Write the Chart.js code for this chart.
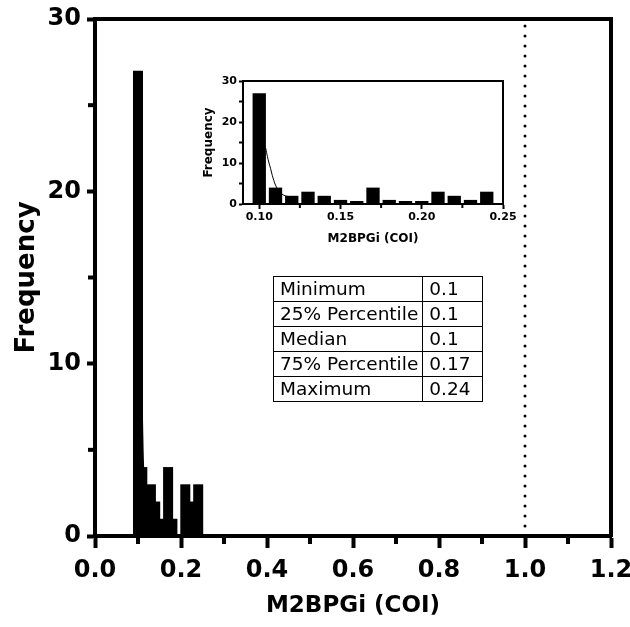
<!DOCTYPE html>
<html><head><meta charset="utf-8">
<script src="https://cdn.jsdelivr.net/npm/chart.js@4.4.1/dist/chart.umd.min.js"></script>
<style>
html,body{margin:0;padding:0;background:#fff;}
#wrap{position:relative;width:630px;height:627px;overflow:hidden;}
#main{position:absolute;left:0;top:0;}
#inset{position:absolute;left:180px;top:60px;}
#stats{position:absolute;left:273px;top:276px;border-collapse:collapse;font-family:"DejaVu Sans",sans-serif;font-size:18.5px;color:#000;}
#stats td{border:1.5px solid #000;padding:0 4px 0 6px;height:24px;line-height:24px;white-space:nowrap;}
#stats td.v{width:49px;}
</style></head><body>
<div id="wrap">
<canvas id="main" width="630" height="627"></canvas>
<canvas id="inset" width="345" height="200"></canvas>
<table id="stats"></table>
</div>
<script>
// ---- data ----
const binCenters = [0.10,0.11,0.12,0.13,0.14,0.15,0.16,0.17,0.18,0.19,0.20,0.21,0.22,0.23,0.24];
const counts     = [27,4,2,3,2,1,0,4,1,0,0,3,2,1,3];
const fitX = [0.104,0.105,0.106,0.107,0.108,0.109,0.110,0.112,0.114,0.116,0.118];
const fitY = [13.6,11.6,10.0,8.6,7.0,5.7,4.6,3.2,2.4,2.0,1.8];
const cutoffX = [1.0,1.0];
const cutoffY = [0,30];
const mainXTicks = [0,0.2,0.4,0.6,0.8,1.0,1.2];
const mainXMinor = [0.1,0.3,0.5,0.7,0.9,1.1];
const mainYTicks = [0,10,20,30];
const mainYMinor = [5,15,25];
const insetXTicks = [0.10,0.15,0.20,0.25];
const insetXMinor = [0.125,0.175,0.225];
const insetYTicks = [0,10,20,30];
const insetYMinor = [5,15,25];
const statNames  = ['Minimum','25% Percentile','Median','75% Percentile','Maximum'];
const statValues = ['0.1','0.1','0.1','0.17','0.24'];
const xTitle = 'M2BPGi (COI)';
const yTitle = 'Frequency';

// ---- table ----
const tbl = document.getElementById('stats');
statNames.forEach((n,i)=>{
  const tr = document.createElement('tr');
  const a = document.createElement('td'); a.textContent = n;
  const b = document.createElement('td'); b.textContent = statValues[i]; b.className='v';
  tr.appendChild(a); tr.appendChild(b); tbl.appendChild(tr);
});

const FONT = '"DejaVu Sans", sans-serif';

const minorTicks = {
  id:'minorTicks',
  afterDraw(chart, args, o){
    const ctx = chart.ctx, xs = chart.scales.x, ys = chart.scales.y, ca = chart.chartArea;
    ctx.save(); ctx.strokeStyle='#000'; ctx.lineWidth=o.width; ctx.lineCap='butt';
    const by = ca.bottom + o.border/2, lx = ca.left - o.border/2;
    o.xs.forEach(v=>{const p=xs.getPixelForValue(v); ctx.beginPath(); ctx.moveTo(p,by); ctx.lineTo(p,by+o.lenX); ctx.stroke();});
    o.ys.forEach(v=>{const p=ys.getPixelForValue(v); ctx.beginPath(); ctx.moveTo(lx,p); ctx.lineTo(lx-o.lenY,p); ctx.stroke();});
    ctx.restore();
  }
};

function noPad(s){ s.paddingLeft = 0; s.paddingRight = 0; s.paddingTop = 0; s.paddingBottom = 0; }

function build(canvas, cfg){
  const bw = cfg.border;
  const frame = (pos, size) => ({
    type:'linear', position:pos, display:true,
    ticks:{display:false}, grid:{display:false},
    border:{display:true, width:bw, color:'#000'},
    afterFit: s => { noPad(s); if (pos==='top') s.height = size; else s.width = size; }
  });
  return new Chart(canvas, {
    type:'bar',
    data:{ datasets:[
      { type:'line', data: cutoffX.map((x,i)=>({x, y:cutoffY[i]})), borderColor:'#000',
        borderWidth:cfg.dotW, borderDash:[0,cfg.dotGap], borderCapStyle:'round', pointRadius:0,
        xAxisID:'x', yAxisID:'y', hidden: !cfg.showCutoff, order:0 },
      { type:'line', data: fitX.map((x,i)=>({x, y:fitY[i]})), borderColor:'#000',
        borderWidth:cfg.fitW, pointRadius:0, tension:0.4, fill:false, xAxisID:'x', yAxisID:'y', order:1 },
      { type:'bar', data: binCenters.map((x,i)=>({x, y:counts[i]})), backgroundColor:'#000',
        borderWidth:0, barPercentage:cfg.barPct, categoryPercentage:1, minBarLength:cfg.minBar,
        xAxisID:'x', yAxisID:'y', order:2 }
    ]},
    options:{
      responsive:false, animation:false, events:[],
      layout:{padding:0, autoPadding:false},
      plugins:{ legend:{display:false}, tooltip:{enabled:false},
        minorTicks:{ xs:cfg.xMinor, ys:cfg.yMinor, width:cfg.tickW, border:bw, lenX:cfg.minorLenX, lenY:cfg.minorLenY } },
      scales:{
        x:{ type:'linear', position:'bottom', min:cfg.xMin, max:cfg.xMax, offset:false,
            afterBuildTicks: s => { s.ticks = cfg.xTicks.map(v=>({value:v})); },
            ticks:{ callback: v => v.toFixed(cfg.xDec), font:{family:FONT, weight:'bold', size:cfg.tickFont},
                    color:'#000', padding:cfg.xPad, maxRotation:0, autoSkip:false },
            grid:{ drawOnChartArea:false, drawTicks:true, tickLength:cfg.xTickLen, tickWidth:cfg.tickW, tickColor:'#000', offset:false },
            border:{ display:true, width:bw, color:'#000' },
            title:{ display:true, text:xTitle, color:'#000', font:{family:FONT, weight:'bold', size:cfg.xTitleFont},
                    padding:{top:0, bottom:cfg.xTitlePad} },
            afterFit: s => { noPad(s); s.height = cfg.bottomH; } },
        y:{ type:'linear', position:'left', min:0, max:30,
            afterBuildTicks: s => { s.ticks = cfg.yTicks.map(v=>({value:v})); },
            ticks:{ font:{family:FONT, weight:'bold', size:cfg.tickFont}, color:'#000', padding:cfg.yPad },
            grid:{ drawOnChartArea:false, drawTicks:true, tickLength:cfg.yTickLen, tickWidth:cfg.tickW, tickColor:'#000' },
            border:{ display:true, width:bw, color:'#000' },
            title:{ display:true, text:yTitle, color:'#000', font:{family:FONT, weight:'bold', size:cfg.yTitleFont},
                    padding:{top:cfg.yTitlePad, bottom:0} },
            afterFit: s => { noPad(s); s.width = cfg.leftW; } },
        xTop: frame('top', cfg.topH),
        yRight: frame('right', cfg.rightW)
      }
    },
    plugins:[minorTicks]
  });
}

build(document.getElementById('main'), {
  border:4, tickW:4, dotW:3, dotGap:10, showCutoff:true, fitW:3, barPct:2.33, minBar:0,
  xMin:0, xMax:1.2, xTicks:mainXTicks, xMinor:mainXMinor, yTicks:mainYTicks, yMinor:mainYMinor, xDec:1,
  tickFont:24, xTitleFont:23, yTitleFont:26, xPad:8, yPad:6, xTickLen:12, yTickLen:8, minorLenX:6, minorLenY:5,
  xTitlePad:7, yTitlePad:12, bottomH:91, leftW:95, topH:19, rightW:19
});

build(document.getElementById('inset'), {
  border:2, tickW:2, dotW:0, dotGap:10, showCutoff:false, fitW:1, barPct:0.82, minBar:3,
  xMin:0.09, xMax:0.25, xTicks:insetXTicks, xMinor:insetXMinor, yTicks:insetYTicks, yMinor:insetYMinor, xDec:2,
  tickFont:11, xTitleFont:12, yTitleFont:12, xPad:2, yPad:2, xTickLen:5, yTickLen:4, minorLenX:3, minorLenY:3,
  xTitlePad:14, yTitlePad:22, bottomH:56, leftW:63, topH:21, rightW:22
});
</script>
</body></html>
